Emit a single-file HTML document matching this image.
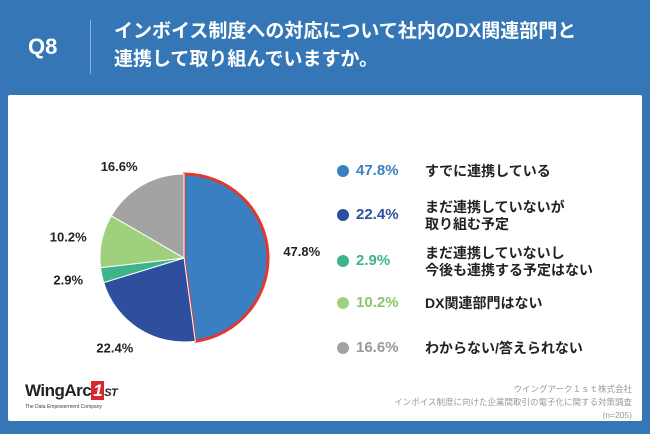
<!DOCTYPE html>
<html><head><meta charset="utf-8">
<style>
body{margin:0;width:650px;height:434px;background:#3577b6;font-family:"Liberation Sans","Noto Sans CJK JP",sans-serif;overflow:hidden;position:relative}
.abs{position:absolute}
#panel{left:8px;top:95px;width:634px;height:326px;background:#fff;border-radius:2px}
.lg{position:absolute;font-weight:bold;font-size:14px;color:#222;line-height:17px}
.pc{position:absolute;font-weight:bold;font-size:15px}
.dot{position:absolute;width:12px;height:12px;border-radius:50%}
</style></head><body>
<div class="abs" style="left:28px;top:34px;color:#fff;font-size:22px;font-weight:bold">Q8</div>
<div class="abs" style="left:90px;top:20px;width:1px;height:54px;background:#8fb3d8"></div>
<div class="abs" style="left:114px;top:18px;color:#fff;font-size:19px;font-weight:bold;line-height:28px">インボイス制度への対応について社内のDX関連部門と<br>連携して取り組んでいますか。</div>
<div id="panel" class="abs"></div>
<svg class="abs" style="left:0;top:0" width="650" height="434" id="pie"></svg>
<div id="legend"></div>
<div class="abs" style="left:25px;top:381px;font-size:17px;font-weight:bold;color:#222;letter-spacing:-0.5px">WingArc<span style="background:#d8282e;color:#fff;padding:0 2px;font-style:italic">1</span><span style="font-size:11px;font-style:italic">ST</span></div>
<div class="abs" style="left:25px;top:404px;font-size:5px;color:#444">The Data Empowerment Company</div>
<div class="abs" style="left:232px;top:383px;width:400px;font-size:8.5px;color:#999;text-align:right;line-height:13px;white-space:nowrap">ウイングアーク１ｓｔ株式会社<br>インボイス制度に向けた企業間取引の電子化に関する対策調査<br>(n=205)</div>
<script>
const categories=["すでに連携している","まだ連携していないが\n取り組む予定","まだ連携していないし\n今後も連携する予定はない","DX関連部門はない","わからない/答えられない"];
const values=[47.8,22.4,2.9,10.2,16.6];
const colors=["#3a7fc1","#2d4f9d","#3db48b","#9fd07c","#a3a3a3"];
const pctColors=["#3a7fc1","#2d4f9d","#3db48b","#8cc46a","#999"];
const svg=document.getElementById('pie');
const NS="http://www.w3.org/2000/svg";
const cx=184,cy=258,r=84;
const total=values.reduce((a,b)=>a+b,0);
let a0=0;
values.forEach((v,i)=>{
  const a1=a0+v/total*2*Math.PI;
  const p=(a)=>[cx+r*Math.sin(a),cy-r*Math.cos(a)];
  const [x0,y0]=p(a0),[x1,y1]=p(a1);
  const path=document.createElementNS(NS,'path');
  path.setAttribute('d',`M${cx},${cy}L${x0},${y0}A${r},${r} 0 ${a1-a0>Math.PI?1:0} 1 ${x1},${y1}Z`);
  path.setAttribute('fill',colors[i]);
  path.setAttribute('stroke','#fff');path.setAttribute('stroke-width','1');
  
  
  svg.appendChild(path);
  const m=(a0+a1)/2, lr=r+22;
  const t=document.createElementNS(NS,'text');
  t.setAttribute('x',cx+lr*Math.sin(m)+(Math.sin(m)>0.3?12:Math.sin(m)<-0.3?-12:0));
  t.setAttribute('y',cy-lr*Math.cos(m)+5);
  t.setAttribute('text-anchor','middle');
  t.setAttribute('font-size','13');t.setAttribute('font-weight','bold');t.setAttribute('fill','#222');
  t.textContent=v.toFixed(1)+'%';
  
  
  svg.appendChild(t);
  if(i===0){
    const hl=document.createElementNS(NS,'path');
    hl.setAttribute('d',`M${cx},${cy}L${x0},${y0}A${r},${r} 0 0 1 ${x1},${y1}Z`);
    hl.setAttribute('fill','none');hl.setAttribute('stroke','#e0392f');hl.setAttribute('stroke-width','3');
    hl.setAttribute('stroke-linejoin','round');
    
    
    svg.appendChild(hl);
  }
  a0=a1;
});
const lg=document.getElementById('legend');
const ys=[171,215,261,303,348];
categories.forEach((c,i)=>{
  const d=document.createElement('div');d.className='dot';
  d.style.left='337px';d.style.top=(ys[i]-6)+'px';d.style.background=colors[i];
  
  
  lg.appendChild(d);
  const p=document.createElement('div');p.className='pc';
  p.style.left='356px';p.style.top=(ys[i]-9)+'px';p.style.color=pctColors[i];
  p.textContent=values[i].toFixed(1)+'%';
  
  
  lg.appendChild(p);
  const l=document.createElement('div');l.className='lg';
  const lines=c.split('\n');
  l.style.left='425px';l.style.top=(ys[i]-8-(lines.length-1)*8)+'px';
  l.innerHTML=lines.join('<br>');
  
  
  lg.appendChild(l);
});
</script>
</body></html>
